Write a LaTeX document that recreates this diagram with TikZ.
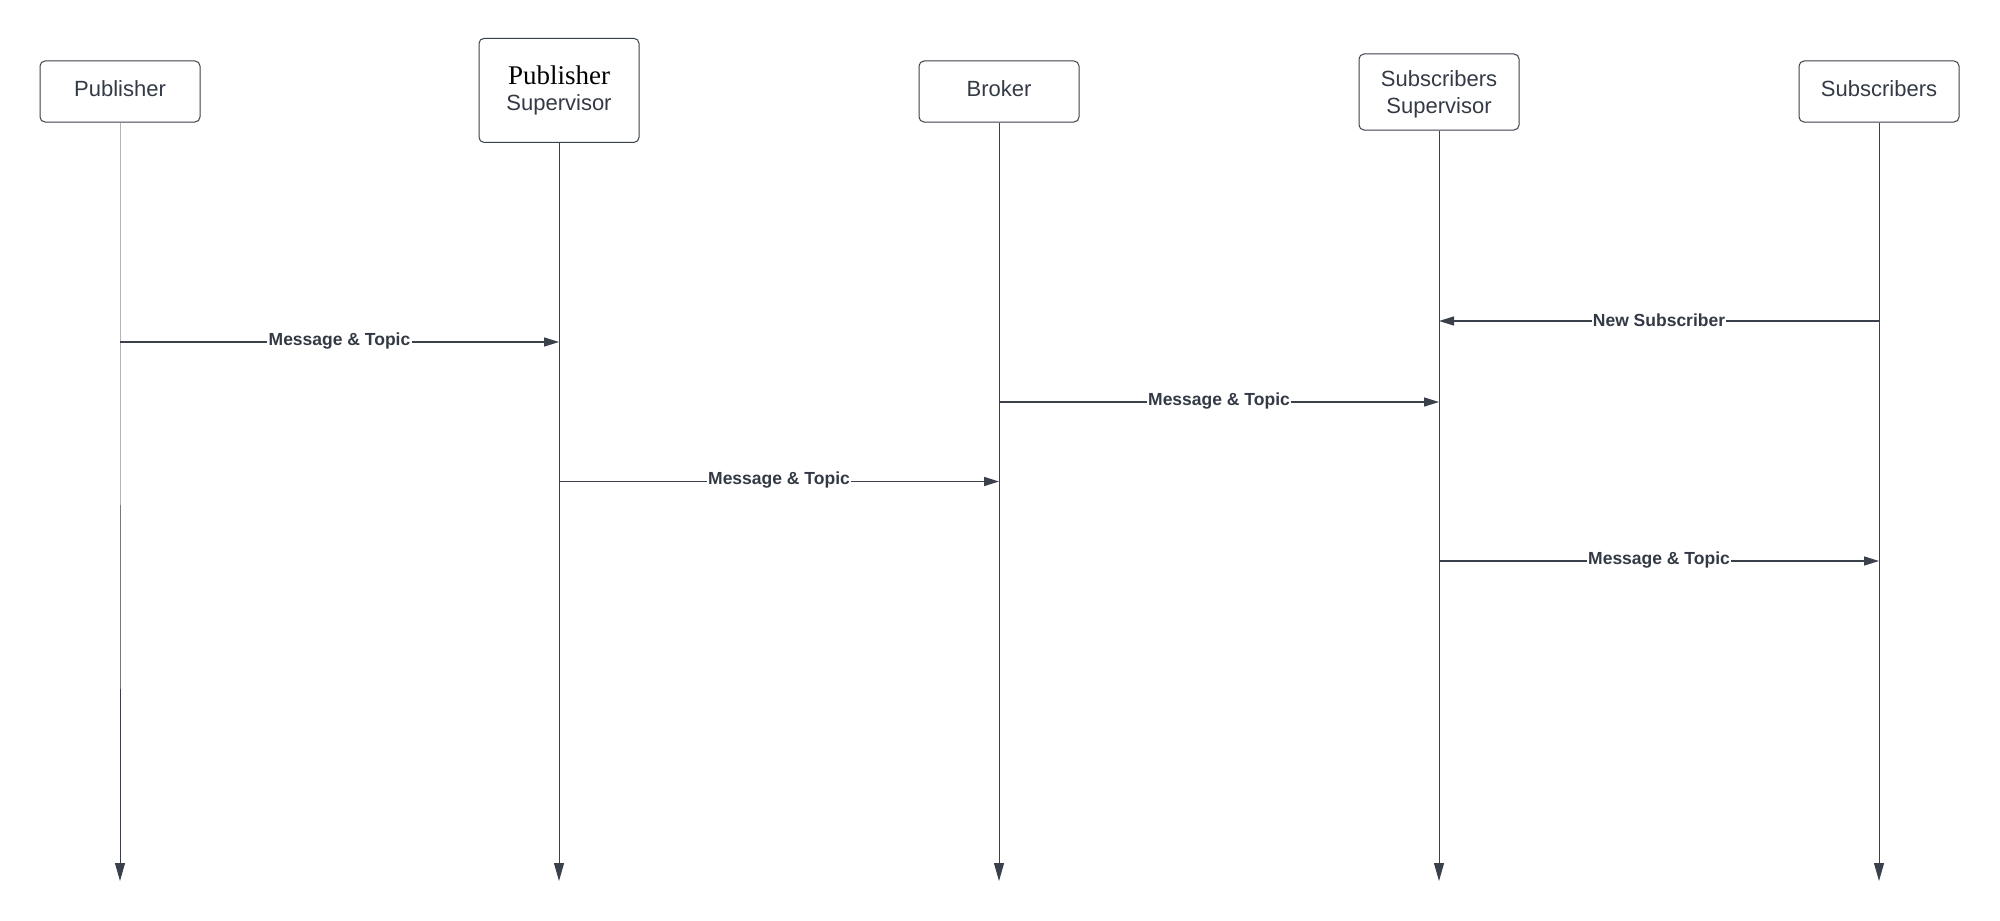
\documentclass[tikz,border=0pt]{standalone}
\usepackage{fontspec}
\setmainfont{Liberation Sans}
\newfontfamily\serifpub{Liberation Serif}
\usetikzlibrary{arrows.meta}
\definecolor{ink}{HTML}{333A45}
\definecolor{linec}{HTML}{3A414A}
\definecolor{lifelight}{HTML}{B4B4B4}
\definecolor{lifemid}{HTML}{787878}
\begin{document}
\begin{tikzpicture}[x=0.5pt,y=-0.5pt,
 actor/.style={draw=linec, line width=0.5pt, rounded corners=2.5pt, minimum width=80pt, minimum height=30.5pt, align=center, text=ink, font=\fontsize{11}{13.5}\selectfont, inner sep=0pt},
 single/.style={text depth=2.6pt},
 life/.style={draw=linec, line width=0.5pt, -{Triangle[length=9pt,width=5pt]}},
 msg/.style={draw=linec, line width=0.75pt, -{Triangle[length=7.5pt,width=4.5pt]}},
 lbl/.style={fill=white, inner sep=0.6pt, text=ink, font=\bfseries\fontsize{8.75}{10}\selectfont, yshift=0.6pt}]
\useasboundingbox (0,0) rectangle (2000,920);
\node[actor, single] (pub) at (120,91.5) {Publisher};
\node[actor, minimum height=52pt, font=\fontsize{11}{12.75}\selectfont, yshift=0.8pt] (psup) at (559,92) {{\serifpub\color{black}\fontsize{13.5}{12.75}\selectfont Publisher}\\Supervisor};
\node[actor, single] (brk) at (999,91.5) {Broker};
\node[actor, minimum height=38pt, text depth=0pt] (ssup) at (1439,92) {Subscribers\\Supervisor};
\node[actor, single] (subs) at (1879,91.5) {Subscribers};
% lifelines
\coordinate (pubA) at (120,505);
\coordinate (pubB) at (120,689);
\coordinate (pubE) at (120,881);
\coordinate (psupE) at (559,881);
\coordinate (brkE) at (999,881);
\coordinate (ssupE) at (1439,881);
\coordinate (subsE) at (1879,881);
\draw[draw=lifelight, line width=0.5pt] (pub.south) -- (pubA);
\draw[draw=lifemid, line width=0.5pt] (pubA) -- (pubB);
\draw[life] (pubB) -- (pubE);
\draw[life] (psup.south) -- (psupE);
\draw[life] (brk.south) -- (brkE);
\draw[life] (ssup.south) -- (ssupE);
\draw[life] (subs.south) -- (subsE);
% messages
\draw[msg] (subs |- 0,321) -- node[lbl]{New Subscriber} (ssup |- 0,321);
\draw[msg] (pub |- 0,342) -- node[lbl]{Message \& Topic} (psup |- 0,342);
\draw[msg] (brk |- 0,402) -- node[lbl]{Message \& Topic} (ssup |- 0,402);
\draw[msg] (psup |- 0,481.5) -- node[lbl]{Message \& Topic} (brk |- 0,481.5);
\draw[msg] (ssup |- 0,561) -- node[lbl]{Message \& Topic} (subs |- 0,561);
\end{tikzpicture}
\end{document}
